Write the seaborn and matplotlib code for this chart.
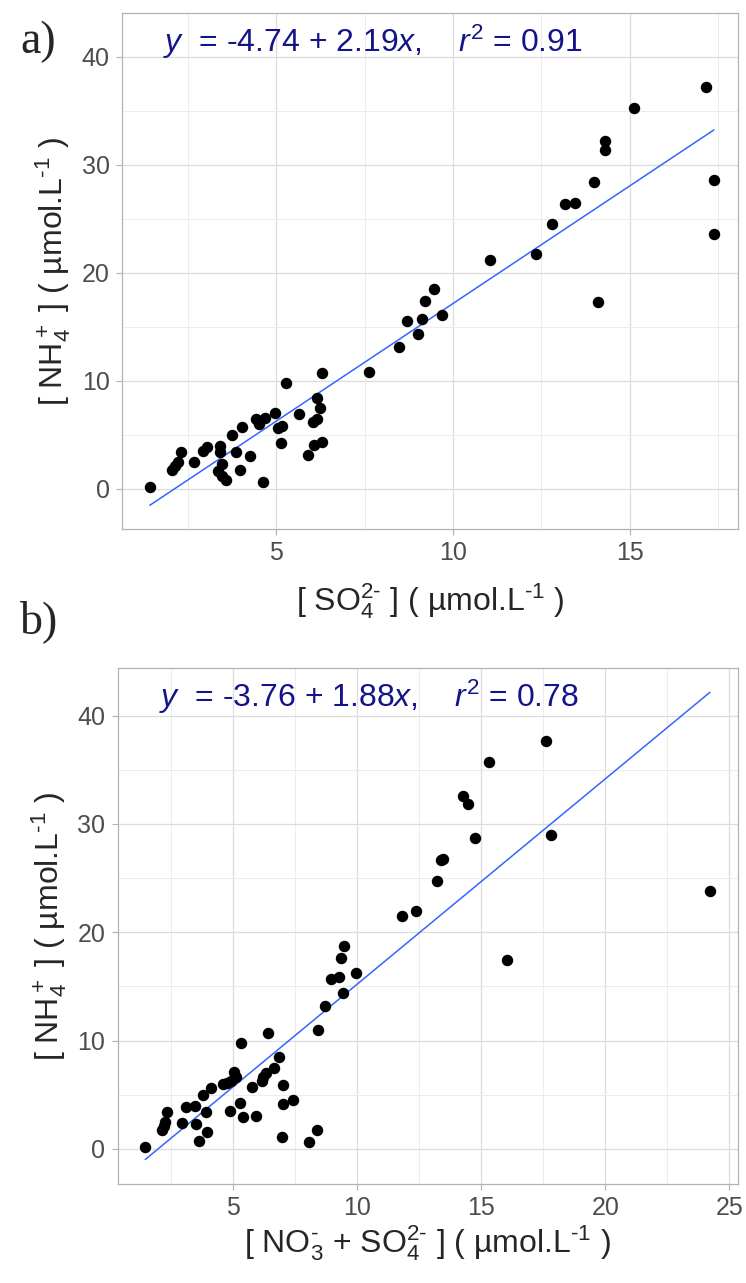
import numpy as np
import pandas as pd
import seaborn as sns
import matplotlib
matplotlib.use("Agg")
import matplotlib.pyplot as plt
from matplotlib.ticker import MultipleLocator

# panel a: SO4 vs NH4 (umol/L)
so4 = [1.43, 2.06, 2.15, 2.23, 2.31, 2.68, 2.93, 3.05, 3.42, 3.42, 3.47, 3.35, 3.47, 3.57,
       3.75, 3.86, 3.98, 4.03, 4.27, 4.42, 4.53, 4.70, 4.63, 4.97, 5.28, 5.04, 5.17, 5.13,
       5.65, 5.90, 6.05, 6.15, 6.16, 6.23, 6.07, 6.29, 6.31, 7.63,
       8.47, 9.00, 9.68, 9.13, 8.71, 14.10, 9.22, 9.46, 12.35, 11.05, 17.38, 12.80,
       13.46, 13.17, 14.00, 17.38, 14.29, 14.29, 15.11, 17.16]
nh4_a = [0.18, 1.80, 2.15, 2.46, 3.38, 2.46, 3.50, 3.84, 3.99, 3.38, 2.30, 1.69, 1.23, 0.83,
         4.98, 3.44, 1.75, 5.69, 3.01, 6.51, 6.05, 6.57, 0.65, 7.07, 9.80, 5.65, 5.81, 4.24,
         6.91, 3.10, 6.20, 6.45, 8.39, 7.47, 4.06, 4.39, 10.69, 10.80,
         13.10, 14.30, 16.10, 15.70, 15.50, 17.30, 17.40, 18.50, 21.70, 21.20, 23.60, 24.50,
         26.50, 26.40, 28.40, 28.60, 31.40, 32.20, 35.20, 37.20]

# panel b: NO3 + SO4 vs NH4 (umol/L)
no3_so4 = [1.45, 2.12, 2.22, 2.26, 2.34, 2.93, 3.09, 3.46, 3.48, 3.62, 3.77, 3.89, 3.95, 4.10,
           4.57, 4.73, 4.85, 4.90, 5.02, 5.12, 5.31, 5.27, 5.38, 5.74, 5.92, 6.16, 6.21, 6.31,
           6.40, 6.64, 6.84, 7.00, 7.00, 7.40, 6.98, 8.05, 8.36, 8.43,
           8.69, 9.42, 9.96, 9.26, 8.93, 16.02, 9.34, 9.45, 12.38, 11.79, 24.22, 13.23,
           13.46, 13.39, 14.73, 17.80, 14.48, 14.27, 15.32, 17.62]
nh4_b = [0.16, 1.75, 2.15, 2.52, 3.39, 2.40, 3.85, 4.00, 2.28, 0.77, 4.96, 3.39, 1.57, 5.63,
         6.03, 6.12, 3.54, 6.31, 7.11, 6.62, 9.82, 4.25, 2.98, 5.75, 3.08, 6.25, 6.62, 6.99,
         10.74, 7.51, 8.49, 5.88, 4.13, 4.50, 1.11, 0.62, 1.72, 10.99,
         13.18, 14.43, 16.25, 15.85, 15.70, 17.40, 17.60, 18.70, 22.00, 21.50, 23.85, 24.70,
         26.80, 26.70, 28.70, 29.00, 31.80, 32.60, 35.70, 37.70]

eq_a = r"$y$  = -4.74 + 2.19$x$,    $r^2$ = 0.91"
eq_b = r"$y$  = -3.76 + 1.88$x$,    $r^2$ = 0.78"

sns.set_theme(style="whitegrid")
plt.rcParams["font.family"] = ["Liberation Sans", "DejaVu Sans"]
plt.rcParams["mathtext.fontset"] = "custom"
plt.rcParams["mathtext.rm"] = "Liberation Sans"
plt.rcParams["mathtext.it"] = "Liberation Sans:italic"

df_a = pd.DataFrame({"x": so4, "y": nh4_a})
df_b = pd.DataFrame({"x": no3_so4, "y": nh4_b})

fig = plt.figure(figsize=(7.46, 12.83), dpi=100)
ax_a = fig.add_axes([0.1639, 0.5877, 0.8253, 0.4019])
ax_b = fig.add_axes([0.1578, 0.0772, 0.8315, 0.4022])


def style_panel(ax, xlim, ylim, xmax_tick):
    ax.set_xlim(*xlim)
    ax.set_ylim(*ylim)
    ax.xaxis.set_major_locator(MultipleLocator(5))
    ax.xaxis.set_minor_locator(MultipleLocator(2.5))
    ax.yaxis.set_major_locator(MultipleLocator(10))
    ax.yaxis.set_minor_locator(MultipleLocator(5))
    ax.set_xticks([t for t in range(5, xmax_tick + 1, 5)])
    ax.grid(which="major", color="#dcdcdc", linewidth=0.9)
    ax.grid(which="minor", color="#ececec", linewidth=0.7)
    ax.set_facecolor("white")
    for s in ax.spines.values():
        s.set_color("#b3b3b3")
        s.set_linewidth(0.9)
        s.set_visible(True)
    ax.tick_params(which="major", length=4.5, width=0.8, color="#b3b3b3",
                   labelsize=18, labelcolor="#4d4d4d", pad=4.5,
                   bottom=True, left=True)
    ax.tick_params(which="minor", length=0)
    ax.set_axisbelow(True)


for ax, df, eq in [(ax_a, df_a, eq_a), (ax_b, df_b, eq_b)]:
    sns.scatterplot(data=df, x="x", y="y", ax=ax, color="black", s=68,
                    edgecolor="black", linewidth=0, zorder=3)
    sns.regplot(data=df, x="x", y="y", ax=ax, scatter=False, ci=None,
                truncate=True, line_kws={"color": "#3366ff", "linewidth": 1.1, "zorder": 2})
    ax.text(0.066, 0.944, eq, transform=ax.transAxes, color="#141489",
            fontsize=23, ha="left", va="center")

style_panel(ax_a, (0.65, 18.06), (-3.7, 44.0), 15)
style_panel(ax_b, (0.34, 25.35), (-3.23, 44.4), 25)

ylab = r"[ NH$_4^+$ ] ( µmol.L$^{\text{-1}}$ )"
ax_a.set_xlabel(r"[ SO$_4^{2\text{-}}$ ] ( µmol.L$^{\text{-1}}$ )", fontsize=23, labelpad=11)
ax_b.set_xlabel(r"[ NO$_3^{\text{-}}$ + SO$_4^{2\text{-}}$ ] ( µmol.L$^{\text{-1}}$ )",
                fontsize=23, labelpad=2)
ax_a.set_ylabel(ylab, fontsize=23, labelpad=6)
ax_b.set_ylabel(ylab, fontsize=23, labelpad=6)

fig.text(20 / 746, 1 - 42 / 1283, "a)", fontsize=33, family="Liberation Serif",
         ha="left", va="center")
fig.text(20 / 746, 1 - 622 / 1283, "b)", fontsize=33, family="Liberation Serif",
         ha="left", va="center")

fig.savefig("out.png", dpi=100, facecolor="white")
